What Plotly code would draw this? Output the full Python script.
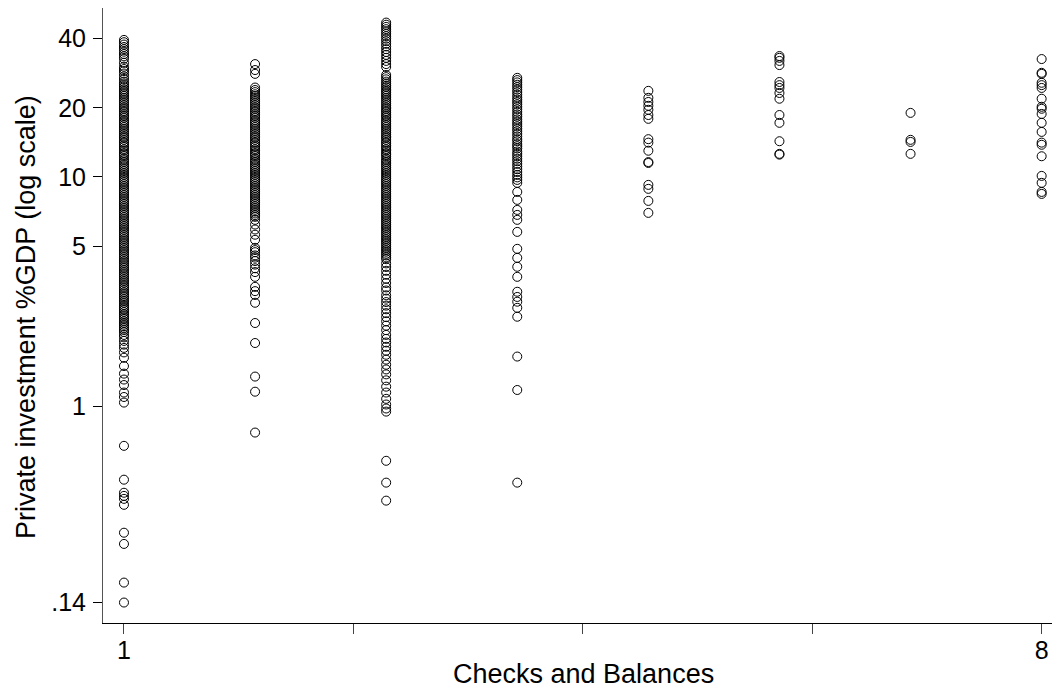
import plotly.graph_objects as go

# Private investment %GDP (log scale) by Checks and Balances
col1 = [39.5, 38.6, 37.7, 36.8, 36.0, 35.1, 34.3, 33.5, 32.7, 31.4, 30.2, 29.5, 28.9, 28.2,
        27.4, 26.7,
        26.0, 25.5, 25.0, 24.6, 24.1, 23.7, 23.3, 22.9, 22.5, 22.1, 21.7, 21.3, 20.9, 20.5,
        20.1, 19.8, 19.4, 19.1, 18.7, 18.4, 18.1, 17.7, 17.4, 17.1, 16.8, 16.5, 16.2, 15.9,
        15.6, 15.3, 15.0, 14.8, 14.5, 14.2, 14.0, 13.7, 13.5, 13.2, 13.0, 12.7, 12.5, 12.3,
        12.0, 11.8, 11.6, 11.4, 11.2, 11.0, 10.8, 10.6, 10.4, 10.2, 10.0, 9.82, 9.64, 9.47,
        9.30, 9.13, 8.96, 8.80, 8.64, 8.48, 8.33, 8.18, 8.03, 7.88, 7.74, 7.60, 7.46, 7.33,
        7.19, 7.06, 6.93, 6.81, 6.69, 6.57, 6.45, 6.33, 6.21, 6.10, 5.99, 5.88, 5.77, 5.67,
        5.56, 5.46, 5.36, 5.27, 5.17, 5.08, 4.98, 4.89, 4.80, 4.72, 4.63, 4.55, 4.46, 4.38,
        4.30, 4.23, 4.15, 4.07, 4.00, 3.93, 3.86, 3.79, 3.72, 3.65, 3.58, 3.52, 3.46, 3.39,
        3.33, 3.27, 3.21, 3.15, 3.10, 3.04, 2.99, 2.93, 2.88, 2.83, 2.77, 2.72, 2.67, 2.63,
        2.58, 2.53, 2.49, 2.44, 2.40, 2.35, 2.31, 2.27, 2.23, 2.19, 2.15, 2.11,
        2.05, 2.0, 1.93, 1.86, 1.80, 1.72, 1.63, 1.50, 1.39, 1.31, 1.24, 1.15, 1.10, 1.04,
        0.674, 0.48, 0.421, 0.408, 0.396, 0.373, 0.282, 0.252, 0.171, 0.14]
col2 = [31.0, 29.2, 28.1, 24.5,
        23.9, 23.4, 22.9, 22.5, 22.1, 21.7, 21.3, 20.9, 20.5, 20.1, 19.8, 19.4, 19.1, 18.7,
        18.4, 18.1, 17.7, 17.4, 17.1, 16.8, 16.5, 16.2, 15.9, 15.6, 15.3, 15.0, 14.8, 14.5,
        14.2, 14.0, 13.7, 13.5, 13.2, 13.0, 12.7, 12.5, 12.3, 12.0, 11.8, 11.6, 11.4, 11.2,
        11.0, 10.8, 10.6, 10.4, 10.2, 10.0, 9.82, 9.64, 9.47, 9.30, 9.13, 8.96, 8.80, 8.64,
        8.48, 8.33, 8.18, 8.03, 7.88, 7.74, 7.60, 7.46, 7.33, 7.19, 7.06, 6.93, 6.81, 6.70,
        6.5, 6.2, 5.9, 5.6, 5.32, 4.91, 4.8, 4.7, 4.55, 4.45, 4.3, 4.15, 4.0, 3.85, 3.67,
        3.32, 3.18, 3.06, 2.83, 2.31, 1.89, 1.35, 1.16, 0.77]
col3 = [47.0, 46.0, 45.0, 44.0, 43.0, 42.0, 41.0, 40.0, 39.0, 38.0, 37.0, 36.0, 35.0, 34.0,
        33.0, 32.0, 31.0, 30.1,
        27.8, 27.2, 26.6, 26.0, 25.5, 25.0, 24.6, 24.1, 23.7, 23.3, 22.9, 22.5, 22.1, 21.7,
        21.3, 20.9, 20.5, 20.1, 19.8, 19.4, 19.1, 18.7, 18.4, 18.1, 17.7, 17.4, 17.1, 16.8,
        16.5, 16.2, 15.9, 15.6, 15.3, 15.0, 14.8, 14.5, 14.2, 14.0, 13.7, 13.5, 13.2, 13.0,
        12.7, 12.5, 12.3, 12.0, 11.8, 11.6, 11.4, 11.2, 11.0, 10.8, 10.6, 10.4, 10.2, 10.0,
        9.82, 9.64, 9.47, 9.30, 9.13, 8.96, 8.80, 8.64, 8.48, 8.33, 8.18, 8.03, 7.88, 7.74,
        7.60, 7.46, 7.33, 7.19, 7.06, 6.93, 6.81, 6.69, 6.57, 6.45, 6.33, 6.21, 6.10, 5.99,
        5.88, 5.77, 5.67, 5.56, 5.46, 5.36, 5.27, 5.17, 5.08, 4.98, 4.89, 4.80, 4.72, 4.63,
        4.55, 4.46, 4.38,
        4.2, 4.05, 3.9, 3.75, 3.6, 3.45, 3.3, 3.2, 3.05, 2.95, 2.85, 2.75, 2.65, 2.55, 2.45,
        2.35, 2.25, 2.15, 2.05, 1.97, 1.9, 1.82, 1.75, 1.68, 1.6, 1.52, 1.45, 1.38, 1.3,
        1.22, 1.15, 1.08, 1.02, 0.98, 0.95,
        0.58, 0.466, 0.389]
col4 = [27.0, 26.4, 25.8, 25.2, 24.6, 24.0, 23.4, 22.8, 22.2, 21.7, 21.2, 20.7, 20.2, 19.7,
        19.2, 18.7, 18.3, 17.8, 17.4, 17.0, 16.6, 16.2, 15.8, 15.4, 15.0, 14.6, 14.3, 13.9,
        13.6, 13.3, 12.9, 12.6, 12.3, 12.0, 11.7, 11.4, 11.1, 10.8, 10.5, 10.2, 9.95, 9.7,
        9.42, 8.6, 7.94, 7.18, 6.83, 6.5, 5.76, 4.86, 4.44, 4.06, 3.67, 3.16, 3.0, 2.86, 2.69,
        2.46, 1.65, 1.18, 0.466]
col5 = [23.7, 22.1, 21.2, 20.4, 19.6, 18.6, 17.9, 14.6, 14.1, 13.0, 11.6, 11.5, 9.23, 8.87,
        7.86, 6.97]
col6 = [33.6, 33.0, 32.0, 30.7, 25.9, 25.1, 24.4, 23.2, 21.9, 18.6, 17.2, 14.3, 12.6, 12.5]
col7 = [19.0, 14.5, 14.2, 12.6]
col8 = [32.6, 28.4, 28.1, 25.7, 25.1, 24.4, 21.9, 20.2, 19.8, 18.8, 17.2, 15.7, 14.1, 13.8,
        12.3, 10.1, 9.42, 8.6, 8.43]

categories = [1, 2, 3, 4, 5, 6, 7, 8]
series = [col1, col2, col3, col4, col5, col6, col7, col8]

y_tickvals = [0.14, 1, 5, 10, 20, 40]
y_ticktext = [".14", "1", "5", "10", "20", "40"]
x_tickvals = [1, 2.75, 4.5, 6.25, 8]
x_ticktext = ["1", "", "", "", "8"]

xs, ys = [], []
for c, vals in zip(categories, series):
    xs += [c] * len(vals)
    ys += vals

FONT = "Liberation Sans, Arial, Helvetica, sans-serif"

fig = go.Figure(go.Scatter(
    x=xs, y=ys, mode="markers",
    marker=dict(symbol="circle-open", size=9, color="black", line=dict(width=1, color="black")),
    hoverinfo="x+y", showlegend=False,
))

fig.update_layout(
    width=1052, height=684,
    margin=dict(l=95, r=0, t=0, b=69, autoexpand=False),
    paper_bgcolor="white", plot_bgcolor="white",
    font=dict(family=FONT, color="black", size=24),
    xaxis=dict(range=[0.84, 8.14], tickvals=x_tickvals, ticktext=x_ticktext,
               showgrid=False, zeroline=False, showline=True, linecolor="black",
               linewidth=1, ticks="outside", ticklen=10, tickcolor="#444",
               ticklabelstandoff=-5,
               tickfont=dict(size=25, family=FONT, color="black")),
    yaxis=dict(type="log", range=[-0.943, 1.7356], tickvals=y_tickvals, ticktext=y_ticktext,
               showgrid=False, zeroline=False, showline=True, linecolor="#555",
               linewidth=1, ticks="outside", ticklen=9, tickcolor="black",
               ticklabelstandoff=2,
               tickfont=dict(size=25, family=FONT, color="black")),
    annotations=[
        dict(text="Checks and Balances", xref="paper", yref="paper", x=0.5016, y=-0.083,
             xanchor="center", yanchor="middle", showarrow=False,
             font=dict(size=27, family=FONT, color="black")),
        dict(text="Private investment %GDP (log scale)", xref="paper", yref="paper",
             x=-0.0805, y=0.4976, xanchor="center", yanchor="middle", textangle=-90,
             showarrow=False, font=dict(size=27, family=FONT, color="black")),
    ],
)

fig.write_html("out.html")
